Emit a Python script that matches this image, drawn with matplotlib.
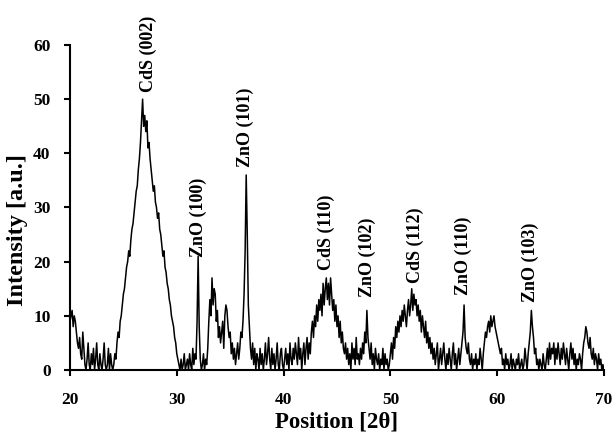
import matplotlib
matplotlib.use('Agg')
import matplotlib.pyplot as plt
import numpy as np

# 2theta from 20 to 70 in 0.1 steps, intensity
two_theta = np.round(np.arange(20.0, 70.05, 0.1), 1)
intensity = [
    9, 10, 11, 8, 10, 9, 7, 5, 4, 6,      # 20
    3, 2, 7, 4, 1, 0, 2, 5, 1, 0,         # 21
    3, 1, 4, 0, 2, 5, 1, 0, 3, 1,         # 22
    0, 2, 5, 1, 0, 1, 4, 0, 3, 1,         # 23
    0, 1, 3, 2, 5, 7, 6, 9, 10, 12,       # 24
    14, 15, 17, 19, 20, 22, 21, 24, 26, 27,  # 25
    29, 31, 33, 34, 37, 39, 42, 46, 50, 45,  # 26
    47, 44, 46, 41, 42, 39, 37, 35, 33, 34,  # 27
    31, 30, 28, 29, 26, 25, 23, 21, 22, 19,  # 28
    18, 16, 15, 13, 12, 10, 9, 8, 6, 5,   # 29
    3, 2, 1, 0, 2, 0, 1, 3, 0, 1,         # 30
    2, 0, 3, 1, 0, 4, 1, 3, 2, 9,         # 31
    21, 8, 2, 0, 1, 3, 0, 2, 1, 4,        # 32
    9, 13, 10, 17, 12, 15, 14, 9, 11, 6,  # 33
    8, 5, 7, 9, 4, 10, 12, 11, 8, 6,      # 34
    7, 3, 5, 2, 4, 1, 3, 5, 2, 4,         # 35
    7, 6, 9, 14, 22, 36, 25, 12, 8, 4,    # 36
    2, 5, 1, 4, 0, 3, 2, 0, 4, 1,         # 37
    3, 0, 2, 5, 1, 3, 6, 2, 0, 4,         # 38
    1, 3, 0, 2, 5, 1, 0, 3, 4, 1,         # 39
    0, 2, 4, 1, 3, 0, 5, 2, 1, 4,         # 40
    2, 5, 3, 1, 6, 2, 4, 0, 3, 5,         # 41
    1, 4, 6, 2, 5, 3, 7, 9, 6, 10,        # 42
    8, 12, 9, 13, 11, 14, 10, 16, 12, 15, # 43
    17, 13, 16, 12, 17, 14, 11, 13, 9, 12,  # 44
    8, 10, 6, 9, 5, 7, 4, 3, 5, 2,        # 45
    4, 1, 3, 0, 5, 2, 4, 1, 6, 2,         # 46
    3, 1, 4, 2, 5, 3, 7, 5, 11, 6,        # 47
    4, 2, 5, 1, 3, 0, 4, 2, 1, 3,         # 48
    0, 2, 1, 4, 0, 3, 1, 2, 0, 1,         # 49
    3, 5, 2, 6, 4, 8, 6, 9, 7, 10,        # 50
    8, 11, 9, 12, 10, 8, 11, 13, 10, 12,  # 51
    15, 11, 14, 12, 13, 10, 12, 9, 11, 7, # 52
    10, 8, 6, 9, 5, 7, 4, 6, 3, 5,        # 53
    2, 4, 1, 3, 5, 0, 2, 4, 1, 3,         # 54
    5, 2, 0, 3, 1, 4, 2, 0, 3, 5,         # 55
    1, 3, 0, 2, 4, 1, 3, 5, 7, 12,        # 56
    6, 4, 3, 5, 2, 1, 3, 0, 2, 1,         # 57
    3, 0, 2, 1, 4, 2, 0, 3, 5, 7,         # 58
    6, 8, 9, 7, 10, 8, 9, 10, 8, 7,       # 59
    6, 5, 4, 3, 4, 1, 2, 0, 3, 1,         # 60
    2, 0, 1, 3, 0, 2, 1, 0, 2, 1,         # 61
    3, 0, 1, 2, 0, 1, 4, 2, 0, 3,         # 62
    5, 7, 11, 8, 6, 3, 4, 1, 2, 0,        # 63
    2, 1, 0, 3, 1, 0, 2, 4, 1, 5,         # 64
    2, 4, 3, 5, 1, 4, 2, 5, 3, 1,         # 65
    4, 2, 5, 3, 1, 4, 2, 0, 3, 5,         # 66
    2, 4, 1, 3, 0, 2, 1, 3, 2, 0,         # 67
    3, 5, 6, 8, 7, 5, 4, 6, 3, 2,         # 68
    4, 1, 3, 2, 0, 3, 1, 2, 0, 1,         # 69
    0,                                    # 70
]

peak_labels = ['CdS (002)', 'ZnO (100)', 'ZnO (101)', 'CdS (110)',
               'ZnO (102)', 'CdS (112)', 'ZnO (110)', 'ZnO (103)']
peak_x = [27.3, 32.0, 36.4, 44.0, 47.8, 52.3, 56.8, 63.1]
peak_y = [51.3, 20.8, 37.5, 18.5, 13.5, 16.0, 13.8, 12.6]

plt.rcParams['font.family'] = ['Liberation Serif', 'DejaVu Serif']
plt.rcParams['font.weight'] = 'bold'

fig = plt.figure(figsize=(6.16, 4.36), dpi=100)
ax = fig.add_axes([0.1136, 0.1514, 0.8669, 0.7454])

ax.plot(two_theta, intensity, color='black', lw=1.1)

for lab, x, y in zip(peak_labels, peak_x, peak_y):
    ax.text(x, y, lab, rotation=90, ha='center', va='bottom',
            fontsize=13, fontweight='bold')

ax.set_xlim(20, 70)
ax.set_ylim(0, 60)
ax.set_xticks(range(20, 71, 10))
ax.set_yticks(range(0, 61, 10))
ax.spines['top'].set_visible(False)
ax.spines['right'].set_visible(False)
ax.spines['left'].set_linewidth(1.5)
ax.spines['bottom'].set_linewidth(1.5)
ax.tick_params(direction='out', length=4, width=1.5, labelsize=12.5)
ax.tick_params(axis='x', pad=12)
ax.tick_params(axis='y', pad=10)
for t in ax.get_xticklabels() + ax.get_yticklabels():
    t.set_fontweight('bold')

ax.set_xlabel('Position [2θ]', fontsize=16.5, fontweight='bold')
ax.set_ylabel('Intensity [a.u.]', fontsize=17.5, fontweight='bold')
ax.xaxis.set_label_coords(0.499, -0.128)
ax.yaxis.set_label_coords(-0.098, 0.431)
ax.yaxis.label.set_va('center')

fig.savefig('out.png', dpi=100)
